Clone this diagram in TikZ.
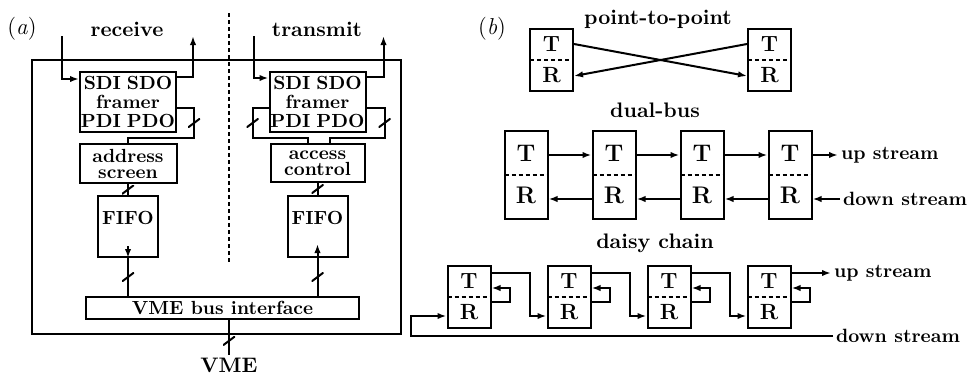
\documentclass[tikz,border=0pt]{standalone}
\usetikzlibrary{arrows.meta, positioning, calc}
\begin{document}
\begin{tikzpicture}[x=0.5pt, y=-0.5pt, line width=1pt, >={Latex[length=4.5pt,width=3.2pt]},
        title/.style={font=\fontsize{10.5}{12}\selectfont\bfseries, inner sep=1pt},
        streamlabel/.style={font=\fontsize{9.6}{11}\selectfont\bfseries, inner sep=1pt, anchor=west},
        block/.style={draw, inner sep=0pt, align=center, font=\fontsize{9.5}{9.5}\selectfont\bfseries},
        divider/.style={-, line width=0.9pt, dash pattern=on 2.2pt off 1.3pt},
        station/.style={draw, minimum width=21.5pt, minimum height=31pt, inner sep=0pt, align=center, font=\fontsize{11}{15.5}\selectfont\bfseries,
            path picture={\draw[divider] (path picture bounding box.west) -- (path picture bounding box.east);}},
        tallstation/.style={station, minimum height=44pt, font=\fontsize{12}{21}\selectfont\bfseries},
        tick/.style={inner sep=0pt, minimum width=6pt, minimum height=4.5pt,
            path picture={\draw[-, line width=1pt] (path picture bounding box.south west) -- (path picture bounding box.north east);}}]

      \useasboundingbox (0,0) rectangle (973,376);

      % (a) the adapter board
      \node[title, font=\fontsize{11.5}{13}\selectfont] (lbla) at (22,29) {(\textit{a})};
      \node[title] (recv) at (127,29) {receive};
      \node[title] (xmit) at (317,29) {transmit};
      \node[draw, minimum width=184.5pt, minimum height=137pt] (board) at (216.5,197) {};
      \coordinate (dtop) at (229,13);
      \coordinate (dbot) at (229,262);
      \draw[divider, line width=0.8pt] (dtop) -- (dbot);

      % receive side
      \node[block, minimum width=48pt, minimum height=30pt] (frR) at (128,102) {SDI\hspace{3pt}SDO\\framer\\PDI\hspace{3pt}PDO};
      \node[block, minimum width=48.5pt, minimum height=19.5pt, font=\fontsize{9.5}{8}\selectfont\bfseries] (adr) at (128,163.5) {address\\screen};
      \node[block, minimum width=30pt, minimum height=30.5pt, text depth=8.5pt] (fifoR) at (128,226.5) {FIFO};

      % transmit side
      \node[block, minimum width=48pt, minimum height=30pt] (frT) at (317.5,102) {SDI\hspace{3pt}SDO\\framer\\PDI\hspace{3pt}PDO};
      \node[block, minimum width=47pt, minimum height=19pt, font=\fontsize{9.5}{8}\selectfont\bfseries] (acc) at (317.5,163) {access\\control};
      \node[block, minimum width=30pt, minimum height=30.5pt, text depth=8.5pt] (fifoT) at (317.5,226.5) {FIFO};

      \node[block, minimum width=136.5pt, minimum height=11pt] (vme) at (222.5,308) {VME bus interface};
      \node[title] (vmeL) at (229,365) {VME};

      % serial lines in and out
      \coordinate (rxin) at (62,36);
      \coordinate (rxout) at (193,36);
      \coordinate (txin) at (253.5,36);
      \coordinate (txout) at (383.5,36);
      \draw[->] (rxin) |- ([yshift=11.5pt]frR.west);
      \draw[->] ([yshift=12.5pt]frR.east) -| (rxout);
      \draw[->] (txin) |- ([yshift=12pt]frT.west);
      \draw[->] ([yshift=12.5pt]frT.east) -| (txout);

      % parallel buses
      \draw ([yshift=-3pt]frR.east) -- ++(17,0) -- node[tick]{} ++(0,30) -| (adr.north);
      \draw (adr) -- node[tick]{} (fifoR);
      \draw[->] ([yshift=6pt]fifoR.south) -- (fifoR.south);
      \draw (fifoR.south) -- node[tick]{} (fifoR.south |- vme.north);

      \draw ([yshift=-3pt]frT.west) -- ++(-16,0) -- node[tick]{} ++(0,30) -| ([xshift=-5pt]acc.north);
      \draw ([yshift=-3pt]frT.east) -- ++(18,0) -- node[tick]{} ++(0,30) -| ([xshift=6pt]acc.north);
      \draw (acc) -- node[tick]{} (fifoT);
      \draw[->] (fifoT.south |- vme.north) -- node[tick]{} (fifoT.south) -- ([yshift=7pt]fifoT.south);

      \draw (vme.south -| vmeL) -- node[tick, pos=0.6]{} (vmeL);

      % (b) point-to-point
      \node[title, font=\fontsize{11.5}{13}\selectfont] (lblb) at (492,29) {(\textit{b})};
      \node[title] (ptp) at (658,19) {point-to-point};
      \node[station] (p1) at (551.5,60) {T\\R};
      \node[station] (p2) at (769.5,60) {T\\R};
      \draw[->] ([yshift=8pt]p1.east) -- ([yshift=-8pt]p2.west);
      \draw[->] ([yshift=8pt]p2.west) -- ([yshift=-8pt]p1.east);

      % dual-bus
      \node[title] (dual) at (655,110) {dual-bus};
      \node[tallstation] (d1) at (526,175) {T\\R};
      \node[tallstation] (d2) at (614,175) {T\\R};
      \node[tallstation] (d3) at (702,175) {T\\R};
      \node[tallstation] (d4) at (790,175) {T\\R};
      \node[streamlabel] (upB) at (838,155) {up stream};
      \node[streamlabel] (dnB) at (840,199) {down stream};

      \draw[->] ([yshift=10pt]d1.east) -- ([yshift=10pt]d2.west);
      \draw[->] ([yshift=10pt]d2.east) -- ([yshift=10pt]d3.west);
      \draw[->] ([yshift=10pt]d3.east) -- ([yshift=10pt]d4.west);
      \draw[->] ([yshift=10pt]d4.east) -- (upB);
      \draw[->] (dnB) -- ([yshift=-12pt]d4.east);
      \draw[->] ([yshift=-12pt]d4.west) -- ([yshift=-12pt]d3.east);
      \draw[->] ([yshift=-12pt]d3.west) -- ([yshift=-12pt]d2.east);
      \draw[->] ([yshift=-12pt]d2.west) -- ([yshift=-12pt]d1.east);

      % daisy chain
      \node[title] (daisy) at (655,243) {daisy chain};
      \node[station] (c1) at (469,297) {T\\R};
      \node[station] (c2) at (569,297) {T\\R};
      \node[station] (c3) at (669,297) {T\\R};
      \node[station] (c4) at (769,297) {T\\R};
      \node[streamlabel] (upC) at (831,273) {up stream};
      \node[streamlabel] (dnC) at (833,336) {down stream};

      \draw[->] ([yshift=-2.5pt]c1.east) -- ++(18,0) |- ([yshift=4.5pt]c1.east);
      \draw[->] ([yshift=-2.5pt]c2.east) -- ++(18,0) |- ([yshift=4.5pt]c2.east);
      \draw[->] ([yshift=-2.5pt]c3.east) -- ++(18,0) |- ([yshift=4.5pt]c3.east);
      \draw[->] ([yshift=-2.5pt]c4.east) -- ++(18,0) |- ([yshift=4.5pt]c4.east);

      \draw[->] ([yshift=12pt]c1.east) -- ++(38,0) |- ([yshift=-9.5pt]c2.west);
      \draw[->] ([yshift=12pt]c2.east) -- ++(38,0) |- ([yshift=-9.5pt]c3.west);
      \draw[->] ([yshift=12pt]c3.east) -- ++(38,0) |- ([yshift=-9.5pt]c4.west);
      \draw[->] ([yshift=12pt]c4.east) -- (upC);
      \draw[->] (dnC.west) -| ([xshift=-18pt, yshift=-9.5pt]c1.west) -- ([yshift=-9.5pt]c1.west);
    \end{tikzpicture}
\end{document}
